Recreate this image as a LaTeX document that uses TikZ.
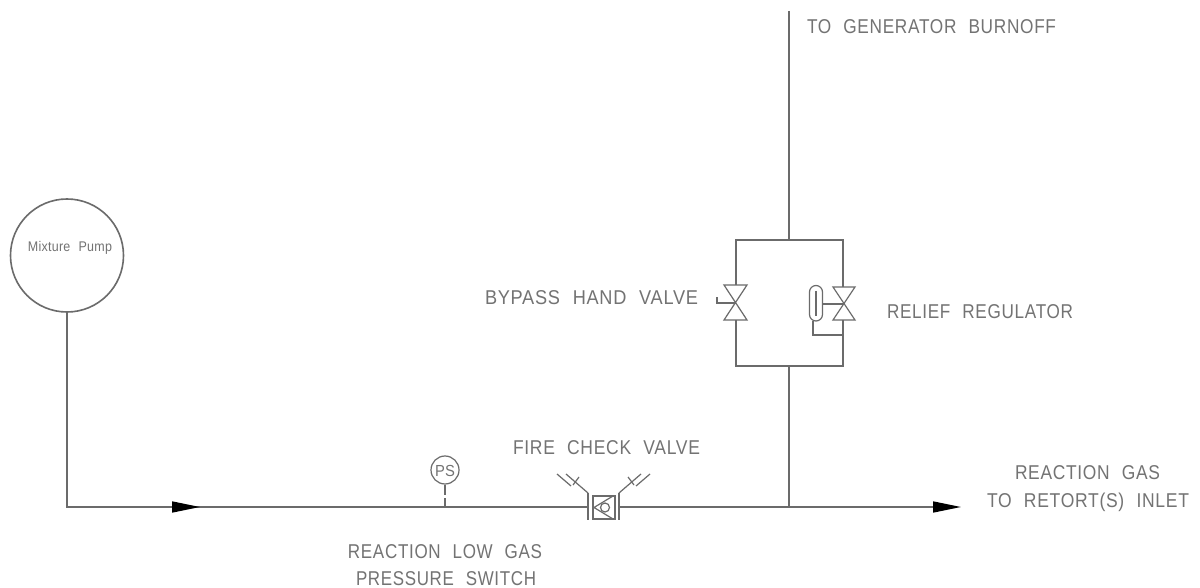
\documentclass[tikz,border=0pt]{standalone}
\usepackage{fontspec}
\usepackage{graphicx}
\setmainfont{Liberation Sans}
\newfontfamily\cad[LetterSpace=4,WordSpace=2.2]{Liberation Sans}
\newfontfamily\cadn[LetterSpace=2,WordSpace=2.2]{Liberation Sans}
\usetikzlibrary{arrows.meta}
\definecolor{ink}{gray}{0.42}
\definecolor{txt}{gray}{0.45}
\newcommand{\fitw}[2]{\resizebox{#1pt}{\height}{#2}}
\tikzset{
  pipe/.style={draw=ink,line width=1.6pt},
  thin pipe/.style={draw=ink,line width=1.2pt},
  flow/.style={pipe,-{Triangle[length=28pt,width=11pt,color=black]}},
  lbl/.style={text=txt,font=\cad\fontsize{20}{20}\selectfont,inner sep=0pt,anchor=base},
  smalllbl/.style={text=txt,font=\cadn\fontsize{14}{14}\selectfont,inner sep=0pt,anchor=base},
}
\begin{document}
\begin{tikzpicture}[x=1pt,y=-1pt]
\useasboundingbox[fill=white] (0,0) rectangle (1200,588);
% pump
\node[pipe,circle,minimum size=113pt,inner sep=0pt] (pump) at (67,255.5) {};
\node[smalllbl] (pumpt) at (70,252) {\fitw{84}{Mixture Pump}};
% main line
\coordinate (corner) at (67,507);
\coordinate (tipA) at (200,507);
\coordinate (mainL) at (588,507);
\coordinate (mainR) at (619,507);
\coordinate (tipB) at (961,507);
\coordinate (tee) at (789,507);
\draw[pipe] (pump.south) -- (corner) -- (tipA);
\draw[flow] (corner) -- (tipA);
\draw[pipe] (tipA) -- (mainL);
\draw[flow] (mainR) -- (tipB);
% vertical
\coordinate (top) at (789,11);
\coordinate (upT) at (789,240);
\coordinate (loT) at (789,366);
\draw[pipe] (top) -- (upT);
\draw[pipe] (loT) -- (tee);
% bypass box
\coordinate (bTL) at (736,240);
\coordinate (bTR) at (843,240);
\coordinate (bBL) at (736,366);
\coordinate (bBR) at (843,366);
\coordinate (lvT) at (736,285);
\coordinate (lvB) at (736,320);
\coordinate (rvT) at (843,287);
\coordinate (rvB) at (843,320);
\draw[pipe] (lvT) -- (bTL) -- (bTR) -- (rvT);
\draw[pipe] (lvB) -- (bBL) -- (bBR) -- (rvB);
% left hand valve
\draw[thin pipe] (724,285) -- (747,285) -- (724,320) -- (747,320) -- cycle;
\draw[thin pipe] (736,303) -- (717,303) -- (717,297);
% right regulator valve
\draw[thin pipe] (833,287) -- (855,287) -- (833,320) -- (855,320) -- cycle;
\draw[thin pipe,rounded corners=6.5pt] (809.5,285.5) rectangle (822.5,321);
\draw[thin pipe] (816,291) -- (816,316);
\draw[thin pipe] (822.5,304) -- (843,304);
\draw[thin pipe] (813,321) -- (813,335) -- (843,335);
% fire check valve
\draw[thin pipe] (593,496) rectangle (615,519);
\draw[thin pipe] (613,496) -- (594,507.5) -- (613,519);
\draw[thin pipe] (605,507.5) circle (4.5);
\draw[pipe] (588,493) -- (588,520);
\draw[pipe] (619,493) -- (619,520);
\draw[thin pipe] (588,493) -- (566,474);
\draw[thin pipe] (557,474) -- (571,486);
\draw[thin pipe] (573,485) -- (579,477);
\draw[thin pipe] (619,493) -- (641,474);
\draw[thin pipe] (650,474) -- (636,486);
\draw[thin pipe] (634,485) -- (628,477);
% pressure switch
\node[thin pipe,circle,minimum size=28pt,inner sep=0pt] (ps) at (445,470) {};
\node[text=txt,font=\cadn\fontsize{16}{16}\selectfont,inner sep=0pt,anchor=base] (pst) at (445,476) {\fitw{20}{PS}};
\coordinate (psA) at (445,495);
\coordinate (psB) at (445,498);
\coordinate (psC) at (445,507);
\draw[thin pipe] (ps.south) -- (psA);
\draw[thin pipe] (psB) -- (psC);
% labels
\node[lbl] (l1) at (931.5,34) {\fitw{249}{TO GENERATOR BURNOFF}};
\node[lbl] (l2) at (591.5,305) {\fitw{213}{BYPASS HAND VALVE}};
\node[lbl] (l3) at (980,318) {\fitw{186}{RELIEF REGULATOR}};
\node[lbl] (l4) at (606.5,454) {\fitw{187}{FIRE CHECK VALVE}};
\node[lbl] (l5) at (1087.5,479) {\fitw{145}{REACTION GAS}};
\node[lbl] (l6) at (1088,507) {\fitw{202}{TO RETORT(S) INLET}};
\node[lbl] (l7) at (445,558) {\fitw{194}{REACTION LOW GAS}};
\node[lbl] (l8) at (446,585) {\fitw{180}{PRESSURE SWITCH}};
\end{tikzpicture}
\end{document}
